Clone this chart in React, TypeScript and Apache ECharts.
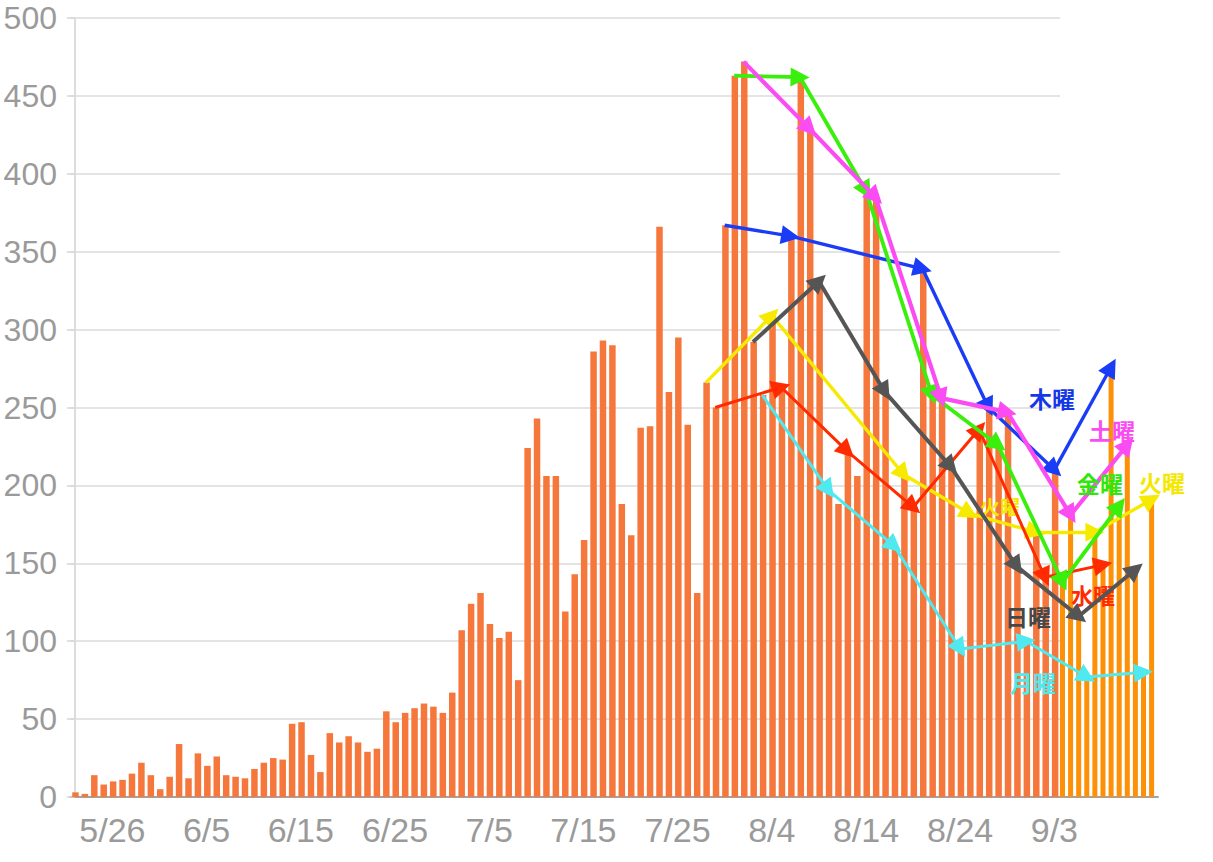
import React, { useEffect, useRef } from "react";
import * as echarts from "echarts";

// ---------- categories: one per day, 5/22 .. 9/15 ----------
const monthSpans: [number, number, number][] = [
  [5, 22, 31],
  [6, 1, 30],
  [7, 1, 31],
  [8, 1, 31],
  [9, 1, 15],
];
const dates: string[] = [];
monthSpans.forEach(([m, a, b]) => {
  for (let d = a; d <= b; d++) dates.push(`${m}/${d}`);
});

// ---------- daily values ----------
const cases: number[] = [
  3, 2, 14, 8, 10, 11, 15, 22, 14, 5, // 5/22-5/31
  13, 34, 12, 28, 20, 26, 14, 13, 12, 18, // 6/1-6/10
  22, 25, 24, 47, 48, 27, 16, 41, 35, 39, // 6/11-6/20
  35, 29, 31, 55, 48, 54, 57, 60, 58, 54, // 6/21-6/30
  67, 107, 124, 131, 111, 102, 106, 75, 224, 243, // 7/1-7/10
  206, 206, 119, 143, 165, 286, 293, 290, 188, 168, // 7/11-7/20
  237, 238, 366, 260, 295, 239, 131, 266, 250, 367, 463, // 7/21-7/31
  472, 292, 258, 309, 263, 360, 462, 429, 331, 197, // 8/1-8/10
  188, 222, 206, 389, 385, 260, 161, 207, 186, 339, // 8/11-8/20
  258, 256, 212, 95, 182, 236, 250, 226, 247, 148, 100, // 8/21-8/31
  170, 141, 210, // 9/1-9/3
  138, 181, 116, 77, 170, 149, 276, 187, 226, 146, 80, 191, // 9/4-9/15 (added part)
];

const lastOriginalDate = "9/3";
const xLabelDates = ["5/26", "6/5", "6/15", "6/25", "7/5", "7/15", "7/25", "8/4", "8/14", "8/24", "9/3"];

// ---------- weekday chains ----------
const thuDates = ["7/30", "8/6", "8/20", "8/27", "9/3", "9/10"];
const friDates = ["7/31", "8/7", "8/14", "8/21", "8/28", "9/4", "9/11"];
const satDates = ["8/1", "8/8", "8/15", "8/22", "8/29", "9/5", "9/12"];
const sunDates = ["8/2", "8/9", "8/16", "8/23", "8/30", "9/6", "9/13"];
const monDates = ["8/3", "8/10", "8/17", "8/24", "8/31", "9/7", "9/14"];
const tueDates = ["7/28", "8/4", "8/18", "8/25", "9/1", "9/8", "9/15"];
const wedDates = ["7/29", "8/5", "8/12", "8/19", "8/26", "9/2", "9/9"];

const chains = [
  { dates: tueDates, color: "#f6ea00", width: 3.4 },
  { dates: monDates, color: "#4fe9ef", width: 3 },
  { dates: wedDates, color: "#ff2a00", width: 3 },
  { dates: sunDates, color: "#555555", width: 4 },
  { dates: thuDates, color: "#1b3cf5", width: 3.4 },
  { dates: friDates, color: "#3aef0c", width: 3.8 },
  { dates: satDates, color: "#fb4cf3", width: 4.2 },
];

const labels = [
  { text: "火曜", x: 1000, y: 506, color: "#f4e800", size: 20, z: 3 },
  { text: "水曜", x: 1093, y: 594, color: "#ff2a00", size: 22, z: 3 },
  { text: "木曜", x: 1052, y: 398, color: "#1637e6", size: 23, z: 20 },
  { text: "土曜", x: 1112, y: 430, color: "#fb4cf3", size: 23, z: 20 },
  { text: "金曜", x: 1100, y: 483, color: "#2ee80a", size: 23, z: 20 },
  { text: "火曜", x: 1162, y: 482, color: "#f4e800", size: 23, z: 20 },
  { text: "日曜", x: 1028, y: 616, color: "#474747", size: 23, z: 20 },
  { text: "月曜", x: 1033, y: 682, color: "#4fe9ef", size: 23, z: 20 },
];

// the added days after 9/3 are squeezed into a narrower step, as in the picture
const addedStep = 0.86;
const lastIdx = dates.indexOf(lastOriginalDate);
const pos = (i: number) => (i <= lastIdx ? i : lastIdx + (i - lastIdx) * addedStep);
const idxOf = (d: string) => dates.indexOf(d);

const AXIS_FONT = '"Liberation Sans", Arial, sans-serif';
const CJK_FONT = '"Noto Sans CJK JP", sans-serif';

export default function App() {
  const ref = useRef<HTMLDivElement>(null);
  useEffect(() => {
    if (!ref.current) return;
    const chart = echarts.init(ref.current, undefined, { renderer: "svg" });

    const mainBars = dates
      .map((d, i) => (i <= lastIdx ? [pos(i), cases[i]] : null))
      .filter((v) => v !== null);
    const addedBars = dates
      .map((d, i) => (i > lastIdx ? [pos(i), cases[i]] : null))
      .filter((v) => v !== null);

    const lineSeries = chains.map((c) => {
      const segs: any[] = [];
      for (let k = 0; k < c.dates.length - 1; k++) {
        const a = idxOf(c.dates[k]);
        const b = idxOf(c.dates[k + 1]);
        segs.push({ coords: [[pos(a), cases[a]], [pos(b), cases[b]]] });
      }
      return {
        type: "lines",
        coordinateSystem: "cartesian2d",
        xAxisIndex: 0,
        yAxisIndex: 0,
        silent: true,
        z: 5,
        symbol: ["none", "triangle"],
        symbolSize: [1, 19],
        lineStyle: { color: c.color, width: c.width, opacity: 1, curveness: 0 },
        data: segs,
      };
    });

    const option: any = {
      animation: false,
      backgroundColor: "#ffffff",
      grid: [
        { left: 70, top: 18, height: 779, right: 55 },
        { left: 70, top: 18, height: 779, width: 990 },
      ],
      xAxis: [
        {
          type: "value",
          gridIndex: 0,
          min: -0.5,
          max: 115,
          axisLine: { show: true, lineStyle: { color: "#a3a3a3", width: 2 } },
          axisTick: { show: false },
          splitLine: { show: false },
          axisLabel: {
            customValues: xLabelDates.map(idxOf),
            formatter: (v: number) => dates[Math.round(v)],
            color: "#9a9a9a",
            fontSize: 34,
            fontFamily: AXIS_FONT,
            margin: 16,
          },
        },
        { type: "value", gridIndex: 1, min: 0, max: 1, show: false },
      ],
      yAxis: [
        {
          type: "value",
          gridIndex: 0,
          min: 0,
          max: 500,
          interval: 50,
          axisLine: { show: true, lineStyle: { color: "#dcdcdc", width: 2 } },
          axisTick: { show: true, length: 8, lineStyle: { color: "#d8d8d8", width: 1.5 } },
          splitLine: { show: false },
          axisLabel: { color: "#9a9a9a", fontSize: 32, fontFamily: AXIS_FONT, margin: 13 },
        },
        {
          type: "value",
          gridIndex: 1,
          min: 0,
          max: 500,
          interval: 50,
          axisLine: { show: false },
          axisTick: { show: false },
          axisLabel: { show: false },
          splitLine: { show: true, lineStyle: { color: "#e4e4e4", width: 2 } },
        },
      ],
      series: [
        {
          type: "bar",
          xAxisIndex: 0,
          yAxisIndex: 0,
          barWidth: 6.5,
          barGap: "-100%",
          z: 2,
          itemStyle: { color: "#f6773c" },
          data: mainBars,
        },
        {
          type: "bar",
          xAxisIndex: 0,
          yAxisIndex: 0,
          barWidth: 5,
          barGap: "-100%",
          z: 2,
          itemStyle: { color: "#fd9006" },
          data: addedBars,
        },
        ...lineSeries,
      ],
      graphic: labels.map((l) => ({
        type: "text",
        x: l.x,
        y: l.y,
        z: l.z,
        silent: true,
        style: {
          text: l.text,
          fill: l.color,
          font: `bold ${l.size}px ${CJK_FONT}`,
          align: "center",
          verticalAlign: "middle",
          textAlign: "center",
          textVerticalAlign: "middle",
          shadowBlur: 3,
          shadowColor: "rgba(0,0,0,0.35)",
          shadowOffsetX: 1,
          shadowOffsetY: 1,
        },
      })),
    };
    chart.setOption(option);
    return () => chart.dispose();
  }, []);
  return (
    <div
      ref={ref}
      style={{ position: "absolute", left: 0, top: 0, width: 1213, height: 862, background: "#fff" }}
    />
  );
}
